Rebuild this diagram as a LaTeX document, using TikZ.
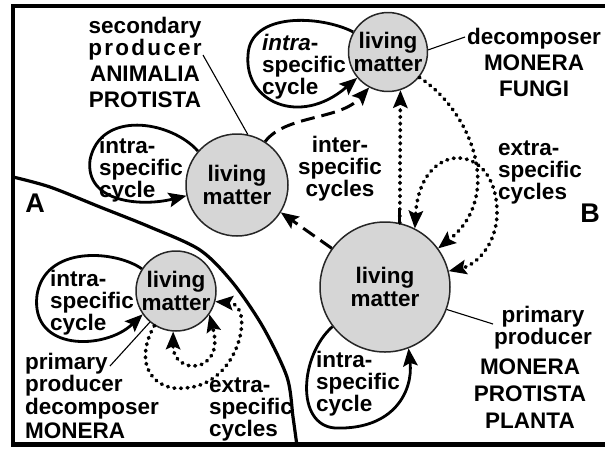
\documentclass[tikz,border=0pt]{standalone}
\usepackage{fontspec}
\setmainfont{Liberation Sans}
\usetikzlibrary{arrows.meta}
\definecolor{lmfill}{RGB}{214,214,214}
\newcommand\tp{\rule{0pt}{18pt}}
\newcommand\fs{\fontsize{22.5}{22}\selectfont\bfseries}
\begin{document}
\begin{tikzpicture}[x=1pt,y=-1pt,
  lm/.style={circle,draw=black!85,line width=1.5pt,fill=lmfill,inner sep=0pt,align=center,font=\fontsize{22.5}{22.5}\selectfont\bfseries},
  lab/.style={inner sep=0pt,font=\fs},
  tipA/.style={-{Stealth[length=18pt,width=15pt,inset=3.5pt,line width=0pt]}},
  tipB/.style={{Stealth[length=18pt,width=15pt,inset=3.5pt,line width=0pt]}-{Stealth[length=18pt,width=15pt,inset=3.5pt,line width=0pt]}},
  solidloop/.style={line width=2.8pt,tipA},
  dotline/.style={line width=3.7pt,line cap=round,dash pattern=on 0.8pt off 5.8pt},
  dashline/.style={line width=3pt,dash pattern=on 14pt off 7pt},
  thinline/.style={line width=1.1pt},
  bigletter/.style={inner sep=0pt,font=\fontsize{27}{27}\selectfont\bfseries},
]
\useasboundingbox (0,0) rectangle (605,448);
% frame
\draw[line width=4.5pt] (606,6) -- (13,6) -- (13,444.5) -- (606,444.5);
% boundary of region A
\draw[line width=3.2pt] plot[smooth] coordinates {(13,177) (50,187) (100,207) (150,227) (200,250) (233,283) (263,327) (287,377) (293,417) (297,446)};

% circles
\node[lm,minimum size=78pt] (top) at (388,52) {living\\matter};
\node[lm,minimum size=102pt] (sec) at (237,185) {living\\matter};
\node[lm,minimum size=130pt] (big) at (385,287) {living\\matter};
\node[lm,minimum size=80pt] (sm) at (176,291) {living\\matter};

% labels
\node[lab,anchor=north,align=center] (seclabel) at (145,15) {\tp secondary\\{\addfontfeature{LetterSpace=10}producer}\\[4pt]ANIMALIA\\[4pt]PROTISTA};
\node[lab,anchor=north west,align=left] (secintra) at (99,135) {\tp intra-\\specific\\cycle};
\node[lab,anchor=north west,align=left] (topintra) at (262,32) {\tp\textit{intra}-\\specific\\cycle};
\node[lab,anchor=north,align=center] (toplabel) at (534,26) {\tp decomposer\\[4pt]MONERA\\[4pt]FUNGI};
\node[lab,anchor=north,align=center] (inter) at (340,134) {\tp inter-\\specific\\cycles};
\node[lab,anchor=north west,align=left] (extraB) at (498,137) {\tp extra-\\specific\\cycles};
\node[lab,anchor=north,align=center] (biglabA) at (543,304) {\tp primary\\producer};
\node[lab,anchor=north,align=center] (biglabB) at (530,356) {\tp MONERA\\[5pt]PROTISTA\\[5pt]PLANTA};
\node[lab,anchor=north west,align=left] (bigintra) at (316,349) {\tp intra-\\specific\\cycle};
\node[lab,anchor=north west,align=left] (smintra) at (50,268) {\tp intra-\\specific\\cycle};
\node[lab,anchor=north west,align=left] (smlabel) at (25,351) {\tp primary\\producer\\[1pt]decomposer\\[2pt]MONERA};
\node[lab,anchor=north west,align=left] (extraA) at (209,374) {\tp extra-\\specific\\cycles};
\node[bigletter] (A) at (35,203) {A};
\node[bigletter] (B) at (590,213) {B};

% label lines
\coordinate (seclab) at (203,55);
\coordinate (toplab) at (465,37);
\coordinate (biglab) at (493,324);
\coordinate (smlab) at (110,366);
\draw[thinline] (seclab) -- (sec.78);
\draw[thinline] (top.3) -- (toplab);
\draw[thinline] (big.340) -- (biglab);
\draw[thinline] (smlab) -- (sm.230);

% intra-specific cycles
\draw[solidloop] (top.150) .. controls (320,15) and (250,12) .. (248,55) .. controls (244,102) and (300,127) .. (top.220);
\draw[solidloop] (sec.139) .. controls (170,120) and (100,110) .. (90,160) .. controls (85,202) and (140,207) .. (sec.192);
\draw[solidloop] (big.217) .. controls (300,355) and (295,425) .. (335,428) .. controls (395,430) and (413,390) .. (big.291);
\draw[solidloop] (sm.147) .. controls (115,250) and (45,245) .. (37,295) .. controls (30,352) and (105,350) .. (sm.215);

% inter-specific cycles
\draw[dashline,tipA] (sec.57) .. controls (285,115) and (340,120) .. (top.242);
\draw[dashline,tipA] (big.144) -- (sec.328);

% extra-specific cycles
\draw[dotline,tipA] (big.77) -- (top.288);
\draw[line width=3pt] (big.77) -- ++(0,-15);
\draw[dotline,tipA] (top.321) .. controls (470,110) and (505,195) .. (big.36);
\draw[dotline,tipB] (big.63) .. controls (420,140) and (495,140) .. (497,210) .. controls (498,245) and (475,265) .. (big.14);
\draw[dotline,tipA] (sm.238) .. controls (132,365) and (155,392) .. (185,388) .. controls (240,385) and (255,305) .. (sm.345);
\draw[dotline,tipB] (sm.266) .. controls (173,375) and (225,375) .. (sm.325);
\end{tikzpicture}
\end{document}
